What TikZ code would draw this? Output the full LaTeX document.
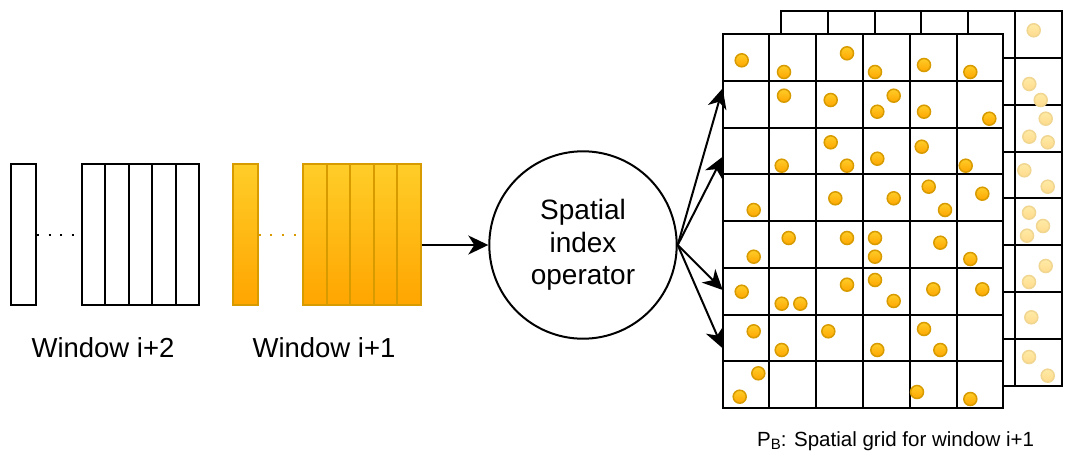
\documentclass[tikz,border=0pt]{standalone}
\usepackage{fontspec}
\setmainfont{Liberation Sans}
\usetikzlibrary{arrows.meta}
\definecolor{amberTop}{HTML}{FFCD28}
\definecolor{amberBot}{HTML}{FFA500}
\definecolor{amberLine}{HTML}{D79B00}
\definecolor{paleTop}{HTML}{FFEBA6}
\definecolor{paleBot}{HTML}{FFDA8C}
\definecolor{paleLine}{HTML}{F0D690}
\begin{document}
\begin{tikzpicture}[x=1pt,y=-1pt,
  bar/.style={draw=black, line width=2pt, fill=white, minimum width=23.5pt,
    minimum height=140.7pt, inner sep=0pt, anchor=north west},
  hotbar/.style={bar, draw=amberLine, top color=amberTop, bottom color=amberBot},
  dotline/.style={line width=2pt, dash pattern=on 2pt off 9.6pt},
  arr/.style={line width=2pt, -{Stealth[length=20pt,width=19pt,inset=6pt]}},
  gridline/.style={line width=2pt, draw=black},
  dot/.style={draw=amberLine, line width=1.5pt, top color=amberTop, bottom color=amberBot},
  paledot/.style={draw=paleLine, line width=1.5pt, top color=paleTop, bottom color=paleBot},
  label/.style={anchor=base, font=\fontsize{27.5}{27.5}\selectfont},
]
\useasboundingbox (0,0) rectangle (1070,453);
\fill[white] (0,0) rectangle (1070,453);

% window i+2: plain bars
\node[bar, minimum width=24.7pt] (a0) at (10.3,163.3) {};
\foreach \k in {1,...,5}
  \node[bar] (a\k) at ({80.7+(\k-1)*23.5},163.3) {};
\draw[dotline] (a0.east) -- (a1.west);

% window i+1: filled bars
\node[hotbar, minimum width=25pt] (b0) at (231.7,163.3) {};
\foreach \k in {1,...,5}
  \node[hotbar] (b\k) at ({302.3+(\k-1)*23.54},163.3) {};
\draw[dotline, amberLine] (b0.east) -- (b1.west);

\node[label] (lab2) at (103,357) {Window i+2};
\node[label] (lab1) at (324,357) {Window i+1};

% operator
\node[draw, circle, line width=2pt, minimum size=187.4pt, inner sep=0pt, align=center,
  font=\fontsize{28}{32.5}\selectfont] (op) at (583,245) {Spatial\\index\\operator};
\draw[arr] (b5.east |- op.west) -- (op.west);

% back grid (previous layer)
\def\cs{46.78}
\begin{scope}[shift={(781,11.3)}]
  \draw[gridline, fill=white] (0,0) rectangle ({6*\cs},{8*\cs});
  \foreach \i in {1,...,5} \draw[gridline] ({\i*\cs},0) -- ({\i*\cs},{8*\cs});
  \foreach \j in {1,...,7} \draw[gridline] (0,{\j*\cs}) -- ({6*\cs},{\j*\cs});
\end{scope}
\foreach \x/\y in {1033.7/30.3, 1029.3/84, 1040.7/100, 1045.7/118.7, 1029.3/136.7,
  1047.7/142.3, 1024.3/170.3, 1047.7/186.7, 1029/212.7, 1043/226, 1027/235.7,
  1045.7/266, 1029/282, 1031.3/317.3, 1029/357, 1047.7/375.7}
  \path[paledot] (\x,\y) circle[radius=6.5pt];

% front grid
\begin{scope}[shift={(722.7,34)}]
  \draw[gridline, fill=white] (0,0) rectangle ({6*\cs},{8*\cs});
  \foreach \i in {1,...,5} \draw[gridline] ({\i*\cs},0) -- ({\i*\cs},{8*\cs});
  \foreach \j in {1,...,7} \draw[gridline] (0,{\j*\cs}) -- ({6*\cs},{\j*\cs});
\end{scope}
\foreach \x/\y in {741.7/60.3, 784/72, 847/53.3, 875/72, 924/65, 970.3/72,
  784/95.7, 830.7/100, 893.7/95.7, 877.3/111.7, 924/111.7, 989.3/118.7,
  781.7/165.7, 830.7/142.3, 847/165.7, 877.3/158.7, 921.7/146.7, 965.7/165.7,
  753.7/210, 835.3/198.3, 893.7/198.3, 928.7/186.7, 945/210, 982.3/193.7,
  753.7/256.7, 788.7/238, 847/238, 875/238, 875/256.7, 940.3/242.7, 970.3/259,
  741.7/291.7, 781.7/303.7, 800.3/303.7, 847/284.7, 875/280, 893.7/301, 933.3/289.3, 982.3/289.3,
  753.7/331.3, 781.7/350, 828.3/331.3, 877.3/350, 924/329, 940.3/350,
  758.3/373.3, 739.7/396.7, 917/392, 970.3/399}
  \path[dot] (\x,\y) circle[radius=6.5pt];

% fan-out from the operator to grid rows
\coordinate (t1) at (722.7,88.3);
\coordinate (t2) at (722.7,156.7);
\coordinate (t3) at (722.7,290);
\coordinate (t4) at (722.7,348.3);
\foreach \t in {t1,t2,t3,t4} \draw[arr] (op.east) -- (\t);

\node[anchor=base west, font=\fontsize{20.5}{20.5}\selectfont, inner sep=0pt] (gridlab) at (757,446)
  {P\raisebox{-0.15em}{\fontsize{15}{15}\selectfont B}: Spatial grid for window i+1};
\end{tikzpicture}
\end{document}
